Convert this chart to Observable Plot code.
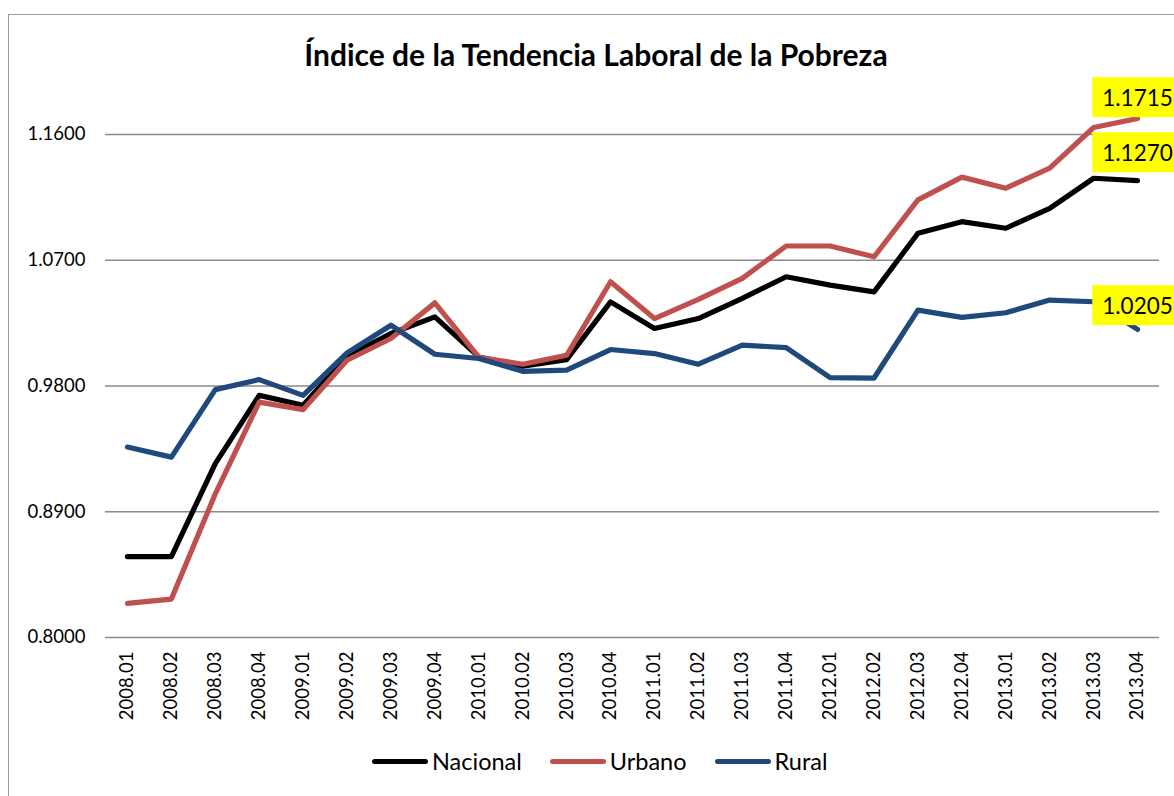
<!DOCTYPE html>
<html>
<head>
<meta charset="utf-8">
<script src="https://cdn.jsdelivr.net/npm/d3@7"></script>
<script src="https://cdn.jsdelivr.net/npm/@observablehq/plot@0.6"></script>
<style>
  html, body { margin: 0; padding: 0; background: #fff; }
  #wrap { position: relative; width: 1174px; height: 796px; overflow: hidden; font-family: Lato, "Open Sans", sans-serif; }
  #frame { position: absolute; left: 8px; top: 14px; width: 1300px; height: 900px; border-left: 1.5px solid #9a9a9a; border-top: 1.5px solid #9a9a9a; }
  #title { position: absolute; left: 8px; width: 1176px; top: 36px; line-height: 36px; text-align: center; font-weight: bold; font-size: 30px; color: #000; }
  #chart { position: absolute; left: 0; top: 0; }
  #legend { position: absolute; left: 372px; top: 747px; display: flex; align-items: center; gap: 28px; font-size: 23.5px; line-height: 28px; color: #000; }
  .item { display: flex; align-items: center; gap: 4px; }
  .swatch { width: 56px; height: 5px; border-radius: 3px; }
</style>
</head>
<body>
<div id="wrap">
  <div id="frame"></div>
  <div id="chart"></div>
  <div id="title"></div>
  <div id="legend"></div>
</div>
<script>
const periods = ["2008.01","2008.02","2008.03","2008.04","2009.01","2009.02","2009.03","2009.04",
  "2010.01","2010.02","2010.03","2010.04","2011.01","2011.02","2011.03","2011.04",
  "2012.01","2012.02","2012.03","2012.04","2013.01","2013.02","2013.03","2013.04"];
const nacional = [0.8579, 0.8579, 0.9244, 0.9733, 0.9662, 1.0013, 1.0176, 1.0295, 1.0008, 0.9941, 0.9989, 1.0402,
  1.0212, 1.0283, 1.0427, 1.0582, 1.0522, 1.0474, 1.0893, 1.0976, 1.0929, 1.1072, 1.1287, 1.1270];
const urbano = [0.8244, 0.8275, 0.9028, 0.9685, 0.9631, 0.9984, 1.0140, 1.0395, 1.0006, 0.9956, 1.0020, 1.0546,
  1.0283, 1.0420, 1.0570, 1.0802, 1.0802, 1.0725, 1.1132, 1.1295, 1.1216, 1.1359, 1.1650, 1.1715];
const rural = [0.9363, 0.9291, 0.9774, 0.9846, 0.9733, 1.0037, 1.0235, 1.0027, 0.9997, 0.9905, 0.9913, 1.0061,
  1.0032, 0.9956, 1.0092, 1.0075, 0.9860, 0.9857, 1.0343, 1.0291, 1.0324, 1.0415, 1.0403, 1.0205];
const seriesNames = ["Nacional", "Urbano", "Rural"];
const seriesColors = ["#000000", "#C0504D", "#1F497D"];
const yTicks = [0.80, 0.89, 0.98, 1.07, 1.16];
const titleText = "Índice de la Tendencia Laboral de la Pobreza";

const seriesValues = [nacional, urbano, rural];
const rows = [];
seriesNames.forEach((s, i) => periods.forEach((p, j) => rows.push({series: s, period: p, value: seriesValues[i][j]})));
const lastRows = seriesNames.map((s, i) => ({series: s, period: periods[periods.length - 1], value: seriesValues[i][periods.length - 1]}));
const labelOffsets = {Nacional: -27, Urbano: -20, Rural: -23};

const chart = Plot.plot({
  width: 1174,
  height: 730,
  marginTop: 134,
  marginBottom: 93,
  marginLeft: 105,
  marginRight: 15,
  style: {fontFamily: "Lato, 'Open Sans', sans-serif", fontSize: "18.5px", color: "#000", background: "transparent"},
  x: {type: "point", domain: periods, padding: 0.5, round: false, label: null, tickRotate: -90, tickSize: 0, tickPadding: 14},
  y: {domain: [0.8, 1.16], ticks: yTicks, tickFormat: d3.format(".4f"), label: null, tickSize: 0, tickPadding: 20},
  color: {domain: seriesNames, range: seriesColors},
  marks: [
    Plot.gridY(yTicks, {stroke: "#8a8a8a", strokeOpacity: 1, strokeWidth: 1.5}),
    Plot.line(rows, {x: "period", y: "value", z: "series", stroke: "series", strokeWidth: 5.2, strokeLinejoin: "round", strokeLinecap: "round"}),
    ...seriesNames.map(s => Plot.text(lastRows.filter(d => d.series === s), {
      x: "period", y: "value", text: d => d3.format(".4f")(d.value),
      dy: labelOffsets[s], fontSize: 22.5, fill: "#000", className: "vlabel"
    }))
  ]
});
document.getElementById("chart").appendChild(chart);

// yellow boxes behind value labels
d3.select(chart).selectAll(".vlabel text").each(function() {
  const b = this.getBBox();
  const padX = 10, h = 40;
  const cy = b.y + b.height / 2;
  d3.select(this.parentNode).insert("rect", () => this)
    .attr("x", b.x - padX).attr("y", cy - h / 2)
    .attr("width", b.width + 2 * padX).attr("height", h)
    .attr("fill", "#FFFF00")
    .attr("transform", this.getAttribute("transform"));
});

document.getElementById("title").textContent = titleText;
const legend = d3.select("#legend");
seriesNames.forEach((s, i) => {
  const it = legend.append("div").attr("class", "item");
  it.append("div").attr("class", "swatch").style("background", seriesColors[i]);
  it.append("span").text(s);
});
</script>
</body>
</html>
